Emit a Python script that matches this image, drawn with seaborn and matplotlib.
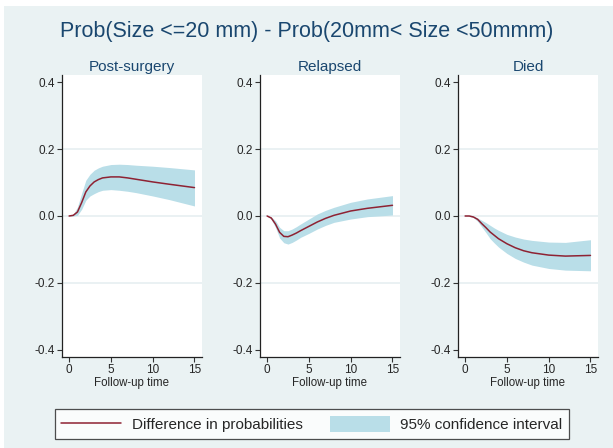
import numpy as np
import pandas as pd
import matplotlib
matplotlib.use("Agg")
import matplotlib.pyplot as plt
from matplotlib.patches import Rectangle, Patch
from matplotlib.lines import Line2D
import seaborn as sns

# Follow-up times (years)
time = [0, 0.5, 1, 1.5, 2, 2.5, 3, 3.5, 4, 5, 6, 7, 8, 10, 12, 15]

states = ["Post-surgery", "Relapsed", "Died"]

# Difference in state-occupation probabilities with 95% CI bounds
post_diff = [0, 0.002, 0.012, 0.040, 0.072, 0.090, 0.102, 0.109, 0.114, 0.117, 0.117, 0.114, 0.110, 0.102, 0.095, 0.085]
post_hi = [0, 0.005, 0.027, 0.068, 0.107, 0.125, 0.137, 0.144, 0.149, 0.154, 0.155, 0.154, 0.152, 0.149, 0.145, 0.138]
post_lo = [0, 0.000, 0.002, 0.020, 0.047, 0.060, 0.067, 0.073, 0.077, 0.079, 0.077, 0.074, 0.070, 0.060, 0.049, 0.030]

rel_diff = [0, -0.006, -0.024, -0.049, -0.061, -0.062, -0.057, -0.051, -0.044, -0.031, -0.018, -0.007, 0.002, 0.015, 0.023, 0.032]
rel_hi = [0, -0.003, -0.014, -0.034, -0.044, -0.044, -0.039, -0.032, -0.024, -0.009, 0.006, 0.017, 0.026, 0.041, 0.051, 0.061]
rel_lo = [0, -0.010, -0.034, -0.066, -0.080, -0.084, -0.079, -0.072, -0.064, -0.052, -0.039, -0.028, -0.019, -0.009, -0.002, 0.003]

died_diff = [0, 0.000, -0.003, -0.010, -0.023, -0.035, -0.048, -0.058, -0.068, -0.083, -0.095, -0.104, -0.110, -0.117, -0.120, -0.118]
died_hi = [0, 0.000, -0.001, -0.006, -0.013, -0.020, -0.028, -0.036, -0.043, -0.055, -0.063, -0.069, -0.073, -0.078, -0.079, -0.071]
died_lo = [0, -0.001, -0.005, -0.016, -0.033, -0.050, -0.068, -0.081, -0.093, -0.112, -0.127, -0.138, -0.147, -0.157, -0.162, -0.164]

yticks = [-0.4, -0.2, 0.0, 0.2, 0.4]
xticks = [0, 5, 10, 15]

frames = []
for name, d, lo, hi in zip(states,
                           [post_diff, rel_diff, died_diff],
                           [post_lo, rel_lo, died_lo],
                           [post_hi, rel_hi, died_hi]):
    frames.append(pd.DataFrame({"state": name, "time": time, "diff": d, "lo": lo, "hi": hi}))
df = pd.concat(frames, ignore_index=True)

sns.set_theme(style="white")
plt.rcParams["font.family"] = ["Liberation Sans", "DejaVu Sans"]

BG = "#EAF2F3"
NAVY = "#1A476F"
LINE = "#8E2233"
FILL = "#B9DEE8"

W, H = 613, 448
fig = plt.figure(figsize=(W / 100, H / 100), dpi=100, facecolor=BG)
# thin white frame along top and left edge
fig.patches.append(Rectangle((0, 1 - 6.5 / H), 1, 6.5 / H, transform=fig.transFigure,
                             facecolor="white", edgecolor="none", zorder=0))
fig.patches.append(Rectangle((0, 0), 4 / W, 1, transform=fig.transFigure,
                             facecolor="white", edgecolor="none", zorder=0))

lefts = [62, 260, 458]
ax_w = 140
top, bottom = 75, 357

for left, name in zip(lefts, states):
    ax = fig.add_axes([left / W, 1 - bottom / H, ax_w / W, (bottom - top) / H])
    ax.set_facecolor("white")
    sub = df[df["state"] == name]
    ax.fill_between(sub["time"], sub["lo"], sub["hi"], color=FILL, linewidth=0, zorder=2)
    sns.lineplot(data=sub, x="time", y="diff", ax=ax, color=LINE, linewidth=1.1, zorder=3)
    for g in [-0.2, 0.0, 0.2]:
        ax.axhline(g, color="#E6EFF1", linewidth=1.2, zorder=1)
    ax.set_xlim(-0.85, 15.9)
    ax.set_ylim(-0.422, 0.422)
    ax.set_xticks(xticks)
    ax.set_yticks(yticks)
    ax.set_yticklabels([f"{v:.1f}" for v in yticks])
    ax.tick_params(axis="both", which="major", direction="out", length=3.5, width=0.8,
                   color="#333333", labelsize=8.5, pad=1.5, left=True, bottom=True)
    for s in ["top", "right"]:
        ax.spines[s].set_visible(False)
    for s in ["left", "bottom"]:
        ax.spines[s].set_color("#222222")
        ax.spines[s].set_linewidth(0.9)
    ax.set_xlabel("Follow-up time", fontsize=8.3, labelpad=1)
    ax.set_ylabel("")
    ax.set_title(name, fontsize=11, color=NAVY, pad=3)

fig.text(0.5, 1 - 32 / H, "Prob(Size <=20 mm) - Prob(20mm< Size <50mmm)",
         ha="center", va="center", fontsize=15.5, color=NAVY)

handles = [Line2D([], [], color=LINE, linewidth=1.1),
           Patch(facecolor=FILL, edgecolor="none")]
labels = ["Difference in probabilities", "95% confidence interval"]
leg = fig.legend(handles, labels, loc="center", ncol=2,
                 bbox_to_anchor=(312 / W, 1 - 424 / H),
                 fontsize=11, frameon=True, fancybox=False,
                 handlelength=3.9, handleheight=1.2, handletextpad=0.7,
                 columnspacing=1.8, borderpad=0.45, borderaxespad=0)
leg.get_frame().set_edgecolor("#222222")
leg.get_frame().set_linewidth(0.9)
leg.get_frame().set_facecolor("white")

fig.savefig("out.png", dpi=100, facecolor=BG)
